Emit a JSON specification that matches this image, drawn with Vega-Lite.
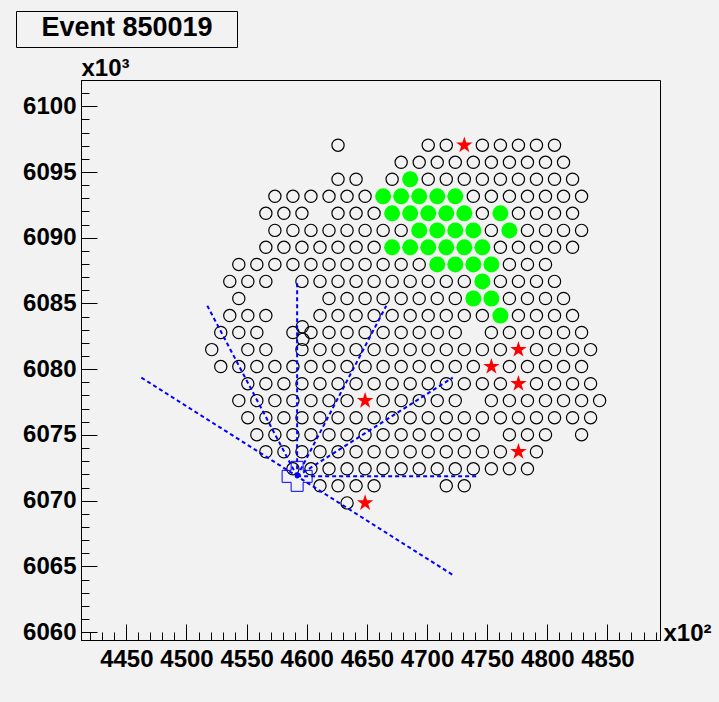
{
"$schema": "https://vega.github.io/schema/vega-lite/v6.json",
"width": 579, "height": 560,
"autosize": {"type": "none"},
"padding": {"left": 81, "top": 80, "right": 59, "bottom": 62},
"background": "#f2f2f2",
"view": {"stroke": "#000000", "strokeWidth": 1, "fill": "#f2f2f2"},
"config": {
  "font": "Liberation Sans",
  "axis": {"labelFont": "Liberation Sans", "labelFontWeight": "bold", "labelFontSize": 24, "labelColor": "#000000", "domainColor": "#000000", "domainWidth": 1, "tickColor": "#000000", "tickWidth": 1, "grid": false, "labelFlush": false, "labelOverlap": false, "titleFont": "Liberation Sans", "titleFontWeight": "bold", "titleFontSize": 24, "titleColor": "#000000"}
},
"datasets": {
"stations": [
{"x":4626,"y":6097.04,"kind":"o"},{"x":4701,"y":6097.04,"kind":"o"},{"x":4716,"y":6097.04,"kind":"o"},{"x":4731,"y":6097.04,"kind":"s"},{"x":4746,"y":6097.04,"kind":"o"},{"x":4761,"y":6097.04,"kind":"o"},{"x":4776,"y":6097.04,"kind":"o"},{"x":4791,"y":6097.04,"kind":"o"},{"x":4806,"y":6097.04,"kind":"o"},
{"x":4678.5,"y":6095.74,"kind":"o"},{"x":4693.5,"y":6095.74,"kind":"o"},{"x":4708.5,"y":6095.74,"kind":"o"},{"x":4723.5,"y":6095.74,"kind":"o"},{"x":4738.5,"y":6095.74,"kind":"o"},{"x":4753.5,"y":6095.74,"kind":"o"},{"x":4768.5,"y":6095.74,"kind":"o"},{"x":4783.5,"y":6095.74,"kind":"o"},{"x":4798.5,"y":6095.74,"kind":"o"},{"x":4813.5,"y":6095.74,"kind":"o"},
{"x":4626,"y":6094.45,"kind":"o"},{"x":4641,"y":6094.45,"kind":"o"},{"x":4671,"y":6094.45,"kind":"o"},{"x":4686,"y":6094.45,"kind":"g"},{"x":4701,"y":6094.45,"kind":"o"},{"x":4716,"y":6094.45,"kind":"o"},{"x":4731,"y":6094.45,"kind":"o"},{"x":4746,"y":6094.45,"kind":"o"},{"x":4761,"y":6094.45,"kind":"o"},{"x":4776,"y":6094.45,"kind":"o"},{"x":4791,"y":6094.45,"kind":"o"},{"x":4806,"y":6094.45,"kind":"o"},{"x":4821,"y":6094.45,"kind":"o"},
{"x":4573.5,"y":6093.15,"kind":"o"},{"x":4588.5,"y":6093.15,"kind":"o"},{"x":4603.5,"y":6093.15,"kind":"o"},{"x":4618.5,"y":6093.15,"kind":"o"},{"x":4633.5,"y":6093.15,"kind":"o"},{"x":4648.5,"y":6093.15,"kind":"o"},{"x":4663.5,"y":6093.15,"kind":"g"},{"x":4678.5,"y":6093.15,"kind":"g"},{"x":4693.5,"y":6093.15,"kind":"g"},{"x":4708.5,"y":6093.15,"kind":"g"},{"x":4723.5,"y":6093.15,"kind":"g"},{"x":4738.5,"y":6093.15,"kind":"o"},{"x":4753.5,"y":6093.15,"kind":"o"},{"x":4768.5,"y":6093.15,"kind":"o"},{"x":4783.5,"y":6093.15,"kind":"o"},{"x":4798.5,"y":6093.15,"kind":"o"},{"x":4813.5,"y":6093.15,"kind":"o"},{"x":4828.5,"y":6093.15,"kind":"o"},
{"x":4566,"y":6091.86,"kind":"o"},{"x":4581,"y":6091.86,"kind":"o"},{"x":4596,"y":6091.86,"kind":"o"},{"x":4626,"y":6091.86,"kind":"o"},{"x":4641,"y":6091.86,"kind":"o"},{"x":4656,"y":6091.86,"kind":"o"},{"x":4671,"y":6091.86,"kind":"g"},{"x":4686,"y":6091.86,"kind":"g"},{"x":4701,"y":6091.86,"kind":"g"},{"x":4716,"y":6091.86,"kind":"g"},{"x":4731,"y":6091.86,"kind":"g"},{"x":4746,"y":6091.86,"kind":"o"},{"x":4761,"y":6091.86,"kind":"g"},{"x":4776,"y":6091.86,"kind":"o"},{"x":4791,"y":6091.86,"kind":"o"},{"x":4806,"y":6091.86,"kind":"o"},{"x":4821,"y":6091.86,"kind":"o"},
{"x":4573.5,"y":6090.56,"kind":"o"},{"x":4588.5,"y":6090.56,"kind":"o"},{"x":4603.5,"y":6090.56,"kind":"o"},{"x":4618.5,"y":6090.56,"kind":"o"},{"x":4633.5,"y":6090.56,"kind":"o"},{"x":4648.5,"y":6090.56,"kind":"o"},{"x":4663.5,"y":6090.56,"kind":"o"},{"x":4678.5,"y":6090.56,"kind":"o"},{"x":4693.5,"y":6090.56,"kind":"g"},{"x":4708.5,"y":6090.56,"kind":"g"},{"x":4723.5,"y":6090.56,"kind":"g"},{"x":4738.5,"y":6090.56,"kind":"g"},{"x":4753.5,"y":6090.56,"kind":"o"},{"x":4768.5,"y":6090.56,"kind":"g"},{"x":4783.5,"y":6090.56,"kind":"o"},{"x":4798.5,"y":6090.56,"kind":"o"},{"x":4813.5,"y":6090.56,"kind":"o"},{"x":4828.5,"y":6090.56,"kind":"o"},
{"x":4566,"y":6089.27,"kind":"o"},{"x":4581,"y":6089.27,"kind":"o"},{"x":4596,"y":6089.27,"kind":"o"},{"x":4611,"y":6089.27,"kind":"o"},{"x":4626,"y":6089.27,"kind":"o"},{"x":4641,"y":6089.27,"kind":"o"},{"x":4656,"y":6089.27,"kind":"o"},{"x":4671,"y":6089.27,"kind":"g"},{"x":4686,"y":6089.27,"kind":"g"},{"x":4701,"y":6089.27,"kind":"g"},{"x":4716,"y":6089.27,"kind":"g"},{"x":4731,"y":6089.27,"kind":"g"},{"x":4746,"y":6089.27,"kind":"g"},{"x":4761,"y":6089.27,"kind":"o"},{"x":4776,"y":6089.27,"kind":"o"},{"x":4791,"y":6089.27,"kind":"o"},{"x":4806,"y":6089.27,"kind":"o"},{"x":4821,"y":6089.27,"kind":"o"},
{"x":4543.5,"y":6087.97,"kind":"o"},{"x":4558.5,"y":6087.97,"kind":"o"},{"x":4573.5,"y":6087.97,"kind":"o"},{"x":4588.5,"y":6087.97,"kind":"o"},{"x":4603.5,"y":6087.97,"kind":"o"},{"x":4618.5,"y":6087.97,"kind":"o"},{"x":4633.5,"y":6087.97,"kind":"o"},{"x":4648.5,"y":6087.97,"kind":"o"},{"x":4663.5,"y":6087.97,"kind":"o"},{"x":4678.5,"y":6087.97,"kind":"o"},{"x":4693.5,"y":6087.97,"kind":"o"},{"x":4708.5,"y":6087.97,"kind":"g"},{"x":4723.5,"y":6087.97,"kind":"g"},{"x":4738.5,"y":6087.97,"kind":"g"},{"x":4753.5,"y":6087.97,"kind":"g"},{"x":4768.5,"y":6087.97,"kind":"o"},{"x":4783.5,"y":6087.97,"kind":"o"},{"x":4798.5,"y":6087.97,"kind":"o"},
{"x":4536,"y":6086.68,"kind":"o"},{"x":4551,"y":6086.68,"kind":"o"},{"x":4566,"y":6086.68,"kind":"o"},{"x":4596,"y":6086.68,"kind":"o"},{"x":4611,"y":6086.68,"kind":"o"},{"x":4626,"y":6086.68,"kind":"o"},{"x":4641,"y":6086.68,"kind":"o"},{"x":4656,"y":6086.68,"kind":"o"},{"x":4671,"y":6086.68,"kind":"o"},{"x":4686,"y":6086.68,"kind":"o"},{"x":4701,"y":6086.68,"kind":"o"},{"x":4716,"y":6086.68,"kind":"o"},{"x":4731,"y":6086.68,"kind":"o"},{"x":4746,"y":6086.68,"kind":"g"},{"x":4761,"y":6086.68,"kind":"o"},{"x":4776,"y":6086.68,"kind":"o"},{"x":4791,"y":6086.68,"kind":"o"},{"x":4806,"y":6086.68,"kind":"o"},
{"x":4543.5,"y":6085.38,"kind":"o"},{"x":4618.5,"y":6085.38,"kind":"o"},{"x":4633.5,"y":6085.38,"kind":"o"},{"x":4648.5,"y":6085.38,"kind":"o"},{"x":4663.5,"y":6085.38,"kind":"o"},{"x":4678.5,"y":6085.38,"kind":"o"},{"x":4693.5,"y":6085.38,"kind":"o"},{"x":4708.5,"y":6085.38,"kind":"o"},{"x":4723.5,"y":6085.38,"kind":"o"},{"x":4738.5,"y":6085.38,"kind":"g"},{"x":4753.5,"y":6085.38,"kind":"g"},{"x":4768.5,"y":6085.38,"kind":"o"},{"x":4783.5,"y":6085.38,"kind":"o"},{"x":4798.5,"y":6085.38,"kind":"o"},{"x":4813.5,"y":6085.38,"kind":"o"},
{"x":4536,"y":6084.08,"kind":"o"},{"x":4551,"y":6084.08,"kind":"o"},{"x":4566,"y":6084.08,"kind":"o"},{"x":4611,"y":6084.08,"kind":"o"},{"x":4626,"y":6084.08,"kind":"o"},{"x":4641,"y":6084.08,"kind":"o"},{"x":4656,"y":6084.08,"kind":"o"},{"x":4671,"y":6084.08,"kind":"o"},{"x":4686,"y":6084.08,"kind":"o"},{"x":4701,"y":6084.08,"kind":"o"},{"x":4716,"y":6084.08,"kind":"o"},{"x":4731,"y":6084.08,"kind":"o"},{"x":4746,"y":6084.08,"kind":"o"},{"x":4761,"y":6084.08,"kind":"g"},{"x":4776,"y":6084.08,"kind":"o"},{"x":4791,"y":6084.08,"kind":"o"},{"x":4806,"y":6084.08,"kind":"o"},{"x":4821,"y":6084.08,"kind":"o"},
{"x":4528.5,"y":6082.79,"kind":"o"},{"x":4543.5,"y":6082.79,"kind":"o"},{"x":4558.5,"y":6082.79,"kind":"o"},{"x":4588.5,"y":6082.79,"kind":"o"},{"x":4603.5,"y":6082.79,"kind":"o"},{"x":4618.5,"y":6082.79,"kind":"o"},{"x":4633.5,"y":6082.79,"kind":"o"},{"x":4648.5,"y":6082.79,"kind":"o"},{"x":4663.5,"y":6082.79,"kind":"o"},{"x":4678.5,"y":6082.79,"kind":"o"},{"x":4693.5,"y":6082.79,"kind":"o"},{"x":4708.5,"y":6082.79,"kind":"o"},{"x":4723.5,"y":6082.79,"kind":"o"},{"x":4753.5,"y":6082.79,"kind":"o"},{"x":4768.5,"y":6082.79,"kind":"o"},{"x":4783.5,"y":6082.79,"kind":"o"},{"x":4798.5,"y":6082.79,"kind":"o"},{"x":4813.5,"y":6082.79,"kind":"o"},{"x":4828.5,"y":6082.79,"kind":"o"},{"x":4596.3,"y":6083.23,"kind":"o"},{"x":4596.8,"y":6082.27,"kind":"o"},
{"x":4521,"y":6081.49,"kind":"o"},{"x":4551,"y":6081.49,"kind":"o"},{"x":4566,"y":6081.49,"kind":"o"},{"x":4596,"y":6081.49,"kind":"o"},{"x":4611,"y":6081.49,"kind":"o"},{"x":4626,"y":6081.49,"kind":"o"},{"x":4641,"y":6081.49,"kind":"o"},{"x":4656,"y":6081.49,"kind":"o"},{"x":4671,"y":6081.49,"kind":"o"},{"x":4686,"y":6081.49,"kind":"o"},{"x":4701,"y":6081.49,"kind":"o"},{"x":4716,"y":6081.49,"kind":"o"},{"x":4731,"y":6081.49,"kind":"o"},{"x":4746,"y":6081.49,"kind":"o"},{"x":4761,"y":6081.49,"kind":"o"},{"x":4776,"y":6081.49,"kind":"s"},{"x":4791,"y":6081.49,"kind":"o"},{"x":4806,"y":6081.49,"kind":"o"},{"x":4821,"y":6081.49,"kind":"o"},{"x":4836,"y":6081.49,"kind":"o"},
{"x":4528.5,"y":6080.2,"kind":"o"},{"x":4543.5,"y":6080.2,"kind":"o"},{"x":4558.5,"y":6080.2,"kind":"o"},{"x":4573.5,"y":6080.2,"kind":"o"},{"x":4588.5,"y":6080.2,"kind":"o"},{"x":4603.5,"y":6080.2,"kind":"o"},{"x":4618.5,"y":6080.2,"kind":"o"},{"x":4633.5,"y":6080.2,"kind":"o"},{"x":4648.5,"y":6080.2,"kind":"o"},{"x":4663.5,"y":6080.2,"kind":"o"},{"x":4678.5,"y":6080.2,"kind":"o"},{"x":4693.5,"y":6080.2,"kind":"o"},{"x":4708.5,"y":6080.2,"kind":"o"},{"x":4723.5,"y":6080.2,"kind":"o"},{"x":4738.5,"y":6080.2,"kind":"o"},{"x":4753.5,"y":6080.2,"kind":"s"},{"x":4768.5,"y":6080.2,"kind":"o"},{"x":4783.5,"y":6080.2,"kind":"o"},{"x":4798.5,"y":6080.2,"kind":"o"},{"x":4813.5,"y":6080.2,"kind":"o"},{"x":4828.5,"y":6080.2,"kind":"o"},
{"x":4551,"y":6078.9,"kind":"o"},{"x":4566,"y":6078.9,"kind":"o"},{"x":4581,"y":6078.9,"kind":"o"},{"x":4596,"y":6078.9,"kind":"o"},{"x":4611,"y":6078.9,"kind":"o"},{"x":4626,"y":6078.9,"kind":"o"},{"x":4641,"y":6078.9,"kind":"o"},{"x":4656,"y":6078.9,"kind":"o"},{"x":4671,"y":6078.9,"kind":"o"},{"x":4686,"y":6078.9,"kind":"o"},{"x":4701,"y":6078.9,"kind":"o"},{"x":4716,"y":6078.9,"kind":"o"},{"x":4731,"y":6078.9,"kind":"o"},{"x":4746,"y":6078.9,"kind":"o"},{"x":4761,"y":6078.9,"kind":"o"},{"x":4776,"y":6078.9,"kind":"s"},{"x":4791,"y":6078.9,"kind":"o"},{"x":4806,"y":6078.9,"kind":"o"},{"x":4821,"y":6078.9,"kind":"o"},{"x":4836,"y":6078.9,"kind":"o"},
{"x":4543.5,"y":6077.61,"kind":"o"},{"x":4558.5,"y":6077.61,"kind":"o"},{"x":4573.5,"y":6077.61,"kind":"o"},{"x":4588.5,"y":6077.61,"kind":"o"},{"x":4603.5,"y":6077.61,"kind":"o"},{"x":4618.5,"y":6077.61,"kind":"o"},{"x":4633.5,"y":6077.61,"kind":"o"},{"x":4648.5,"y":6077.61,"kind":"s"},{"x":4663.5,"y":6077.61,"kind":"o"},{"x":4678.5,"y":6077.61,"kind":"o"},{"x":4693.5,"y":6077.61,"kind":"o"},{"x":4708.5,"y":6077.61,"kind":"o"},{"x":4723.5,"y":6077.61,"kind":"o"},{"x":4753.5,"y":6077.61,"kind":"o"},{"x":4768.5,"y":6077.61,"kind":"o"},{"x":4783.5,"y":6077.61,"kind":"o"},{"x":4798.5,"y":6077.61,"kind":"o"},{"x":4813.5,"y":6077.61,"kind":"o"},{"x":4828.5,"y":6077.61,"kind":"o"},{"x":4843.5,"y":6077.61,"kind":"o"},
{"x":4551,"y":6076.31,"kind":"o"},{"x":4566,"y":6076.31,"kind":"o"},{"x":4581,"y":6076.31,"kind":"o"},{"x":4596,"y":6076.31,"kind":"o"},{"x":4611,"y":6076.31,"kind":"o"},{"x":4626,"y":6076.31,"kind":"o"},{"x":4641,"y":6076.31,"kind":"o"},{"x":4656,"y":6076.31,"kind":"o"},{"x":4671,"y":6076.31,"kind":"o"},{"x":4686,"y":6076.31,"kind":"o"},{"x":4701,"y":6076.31,"kind":"o"},{"x":4716,"y":6076.31,"kind":"o"},{"x":4731,"y":6076.31,"kind":"o"},{"x":4746,"y":6076.31,"kind":"o"},{"x":4761,"y":6076.31,"kind":"o"},{"x":4776,"y":6076.31,"kind":"o"},{"x":4791,"y":6076.31,"kind":"o"},{"x":4806,"y":6076.31,"kind":"o"},{"x":4821,"y":6076.31,"kind":"o"},{"x":4836,"y":6076.31,"kind":"o"},
{"x":4558.5,"y":6075.02,"kind":"o"},{"x":4573.5,"y":6075.02,"kind":"o"},{"x":4588.5,"y":6075.02,"kind":"o"},{"x":4603.5,"y":6075.02,"kind":"o"},{"x":4618.5,"y":6075.02,"kind":"o"},{"x":4633.5,"y":6075.02,"kind":"o"},{"x":4648.5,"y":6075.02,"kind":"o"},{"x":4663.5,"y":6075.02,"kind":"o"},{"x":4678.5,"y":6075.02,"kind":"o"},{"x":4693.5,"y":6075.02,"kind":"o"},{"x":4708.5,"y":6075.02,"kind":"o"},{"x":4723.5,"y":6075.02,"kind":"o"},{"x":4738.5,"y":6075.02,"kind":"o"},{"x":4768.5,"y":6075.02,"kind":"o"},{"x":4783.5,"y":6075.02,"kind":"o"},{"x":4798.5,"y":6075.02,"kind":"o"},{"x":4828.5,"y":6075.02,"kind":"o"},
{"x":4566,"y":6073.72,"kind":"o"},{"x":4581,"y":6073.72,"kind":"o"},{"x":4596,"y":6073.72,"kind":"o"},{"x":4611,"y":6073.72,"kind":"o"},{"x":4626,"y":6073.72,"kind":"o"},{"x":4641,"y":6073.72,"kind":"o"},{"x":4656,"y":6073.72,"kind":"o"},{"x":4671,"y":6073.72,"kind":"o"},{"x":4686,"y":6073.72,"kind":"o"},{"x":4701,"y":6073.72,"kind":"o"},{"x":4716,"y":6073.72,"kind":"o"},{"x":4731,"y":6073.72,"kind":"o"},{"x":4746,"y":6073.72,"kind":"o"},{"x":4761,"y":6073.72,"kind":"o"},{"x":4776,"y":6073.72,"kind":"s"},{"x":4791,"y":6073.72,"kind":"o"},
{"x":4588.5,"y":6072.42,"kind":"o"},{"x":4603.5,"y":6072.42,"kind":"o"},{"x":4618.5,"y":6072.42,"kind":"o"},{"x":4633.5,"y":6072.42,"kind":"o"},{"x":4648.5,"y":6072.42,"kind":"o"},{"x":4663.5,"y":6072.42,"kind":"o"},{"x":4678.5,"y":6072.42,"kind":"o"},{"x":4693.5,"y":6072.42,"kind":"o"},{"x":4708.5,"y":6072.42,"kind":"o"},{"x":4723.5,"y":6072.42,"kind":"o"},{"x":4738.5,"y":6072.42,"kind":"o"},{"x":4753.5,"y":6072.42,"kind":"o"},{"x":4768.5,"y":6072.42,"kind":"o"},{"x":4783.5,"y":6072.42,"kind":"o"},
{"x":4611,"y":6071.13,"kind":"o"},{"x":4626,"y":6071.13,"kind":"o"},{"x":4641,"y":6071.13,"kind":"o"},{"x":4656,"y":6071.13,"kind":"o"},{"x":4716,"y":6071.13,"kind":"o"},{"x":4731,"y":6071.13,"kind":"o"},
{"x":4633.5,"y":6069.83,"kind":"o"},{"x":4648.5,"y":6069.83,"kind":"s"}
],
"tracks": [
{"x":4462.5,"y":6079.36,"x2":4721.2,"y2":6064.36},
{"x":4592.0,"y":6071.85,"x2":4517.3,"y2":6084.83},
{"x":4592.0,"y":6071.85,"x2":4592.0,"y2":6086.65},
{"x":4592.0,"y":6071.85,"x2":4666.1,"y2":6084.83},
{"x":4592.0,"y":6071.85,"x2":4721.4,"y2":6079.36},
{"x":4592.0,"y":6071.85,"x2":4741.4,"y2":6071.85}
],
"core": [{"x":4592.0,"y":6071.85,"event":"Event 850019"}]
},
"resolve": {"axis": {"x": "independent", "y": "independent"}},
"layer": [
{
 "data": {"name": "stations"},
 "transform": [{"filter": "datum.kind == 'o'"}],
 "mark": {"type": "point", "shape": "circle", "filled": false, "stroke": "#000000", "strokeWidth": 1.2, "size": 150, "opacity": 1},
 "encoding": {
  "x": {"field": "x", "type": "quantitative", "scale": {"domain": [4412.3, 4893.7], "nice": false, "zero": false},
        "axis": {"orient": "bottom", "values": [4450,4500,4550,4600,4650,4700,4750,4800,4850], "format": "d", "tickSize": -16, "labelPadding": 23.5, "title": "x10²", "titleX": 582, "titleY": 0, "titleAlign": "left", "titleBaseline": "alphabetic", "titleAngle": 0}},
  "y": {"field": "y", "type": "quantitative", "scale": {"domain": [6059.4, 6102.0], "nice": false, "zero": false},
        "axis": {"orient": "left", "values": [6060,6065,6070,6075,6080,6085,6090,6095,6100], "format": "d", "tickSize": -16, "labelPadding": 21, "title": "x10³", "titleX": 0, "titleY": -5, "titleAlign": "left", "titleBaseline": "alphabetic", "titleAngle": 0}}
 }
},
{
 "data": {"name": "stations"},
 "transform": [{"filter": "datum.kind == 'g'"}],
 "mark": {"type": "point", "shape": "circle", "filled": true, "color": "#00ff00", "size": 256, "opacity": 1},
 "encoding": {
  "x": {"field": "x", "type": "quantitative", "scale": {"domain": [4412.3, 4893.7], "nice": false, "zero": false},
        "axis": {"orient": "bottom", "values": [4420,4430,4440,4450,4460,4470,4480,4490,4500,4510,4520,4530,4540,4550,4560,4570,4580,4590,4600,4610,4620,4630,4640,4650,4660,4670,4680,4690,4700,4710,4720,4730,4740,4750,4760,4770,4780,4790,4800,4810,4820,4830,4840,4850,4860,4870,4880,4890], "tickSize": -8, "labels": false, "domain": false, "title": null}},
  "y": {"field": "y", "type": "quantitative", "scale": {"domain": [6059.4, 6102.0], "nice": false, "zero": false},
        "axis": {"orient": "left", "values": [6060,6061,6062,6063,6064,6065,6066,6067,6068,6069,6070,6071,6072,6073,6074,6075,6076,6077,6078,6079,6080,6081,6082,6083,6084,6085,6086,6087,6088,6089,6090,6091,6092,6093,6094,6095,6096,6097,6098,6099,6100,6101,6102], "tickSize": -8, "labels": false, "domain": false, "title": null}}
 }
},
{
 "data": {"name": "stations"},
 "transform": [{"filter": "datum.kind == 's'"}],
 "mark": {"type": "point", "shape": "M0,-1L0.2245,-0.309L0.951,-0.309L0.363,0.118L0.588,0.809L0,0.382L-0.588,0.809L-0.363,0.118L-0.951,-0.309L-0.2245,-0.309Z", "filled": true, "color": "#ff0000", "size": 300, "opacity": 1},
 "encoding": {
  "x": {"field": "x", "type": "quantitative", "scale": {"domain": [4412.3, 4893.7], "nice": false, "zero": false}, "axis": null},
  "y": {"field": "y", "type": "quantitative", "scale": {"domain": [6059.4, 6102.0], "nice": false, "zero": false}, "axis": null}
 }
},
{
 "data": {"name": "tracks"},
 "mark": {"type": "rule", "color": "#0000ff", "strokeWidth": 2, "strokeDash": [4, 3]},
 "encoding": {
  "x": {"field": "x", "type": "quantitative", "scale": {"domain": [4412.3, 4893.7], "nice": false, "zero": false}, "axis": null},
  "y": {"field": "y", "type": "quantitative", "scale": {"domain": [6059.4, 6102.0], "nice": false, "zero": false}, "axis": null},
  "x2": {"field": "x2"},
  "y2": {"field": "y2"}
 }
},
{
 "data": {"name": "core"},
 "mark": {"type": "point", "shape": "cross", "filled": false, "stroke": "#0000ff", "strokeWidth": 1, "size": 900, "opacity": 1},
 "encoding": {
  "x": {"field": "x", "type": "quantitative", "scale": {"domain": [4412.3, 4893.7], "nice": false, "zero": false}, "axis": null},
  "y": {"field": "y", "type": "quantitative", "scale": {"domain": [6059.4, 6102.0], "nice": false, "zero": false}, "axis": null}
 }
},
{
 "data": {"name": "core"},
 "mark": {"type": "point", "shape": "circle", "filled": true, "size": 20, "opacity": 1},
 "encoding": {
  "x": {"field": "x", "type": "quantitative", "scale": {"domain": [4412.3, 4893.7], "nice": false, "zero": false}, "axis": null},
  "y": {"field": "y", "type": "quantitative", "scale": {"domain": [6059.4, 6102.0], "nice": false, "zero": false}, "axis": null},
  "color": {"field": "event", "type": "nominal", "scale": {"range": ["#0000ff"]},
   "legend": {"orient": "none", "legendX": -65, "legendY": -69, "title": "Event 850019", "titleFont": "Liberation Sans", "titleFontSize": 27, "titleFontWeight": "bold", "titleColor": "#000000", "titleAnchor": "middle", "titleAlign": "center", "titleOrient": "top", "titlePadding": 0, "titleLimit": 400, "padding": 4, "fillColor": "#f2f2f2", "strokeColor": "#000000", "cornerRadius": 0, "symbolSize": 0, "symbolOpacity": 0, "labelExpr": "''", "labelFontSize": 1, "labelOffset": 211}}
 }
}
]
}
